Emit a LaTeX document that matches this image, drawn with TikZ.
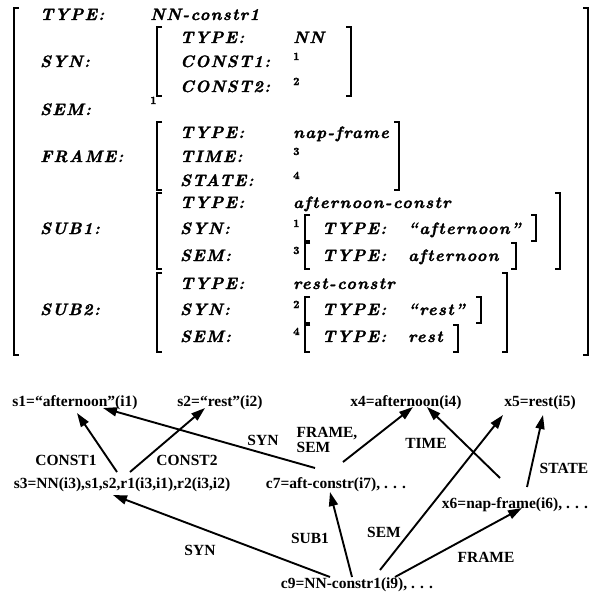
\documentclass[tikz,border=0pt]{standalone}
\usepackage{fontspec}
\setmainfont{Liberation Serif}
\newfontfamily\avmfont{Latin Modern Roman}[LetterSpace=8,FakeBold=1.6]
\usetikzlibrary{arrows.meta,calc}
\newcommand\avmT[4]{\node[avm] (#1) at (#2,#3) {#4};}
\newcommand\avmS[4]{\node[avmsup] (#1) at (#2,#3) {#4};}
\newcommand\lbrk[3]{\draw[brk] (#1+5,#2) -- (#1,#2) -- (#1,#3) -- (#1+5,#3);}
\newcommand\rbrk[3]{\draw[brk] (#1-5,#2) -- (#1,#2) -- (#1,#3) -- (#1-5,#3);}
\begin{document}
\begin{tikzpicture}[x=1pt,y=-1pt,
  avm/.style={anchor=base west,inner sep=0pt,font=\avmfont\bfseries\itshape\fontsize{16.5}{18}\selectfont},
  avmsup/.style={anchor=base west,inner sep=0pt,font=\avmfont\bfseries\fontsize{11}{12}\selectfont},
  brk/.style={line width=1.5pt},
  gn/.style={inner sep=0pt,font=\bfseries\fontsize{15.5}{16}\selectfont},
  gl/.style={inner sep=0pt,align=left,font=\bfseries\fontsize{15.5}{15}\selectfont},
  arr/.style={line width=1.9pt,-{Triangle[length=14pt,width=9pt]}}]
\useasboundingbox (0,0) rectangle (592,600);
% ---------- AVM ----------
\lbrk{14}{8}{355}
\rbrk{588}{8}{355}
\avmT{l1}{40}{20}{TYPE:}
\avmT{v1}{150}{20}{NN-constr1}
\avmT{l2}{40}{67}{SYN:}
\lbrk{157}{27}{96}
\rbrk{351}{27}{96}
\avmT{s1a}{180}{43}{TYPE:}
\avmT{s1b}{293}{43}{NN}
\avmT{s2a}{180}{67}{CONST1:}
\avmS{s2b}{293}{60}{1}
\avmT{s3a}{180}{92}{CONST2:}
\avmS{s3b}{293}{85}{2}
\avmT{l3}{40}{115}{SEM:}
\avmS{v3}{150}{104}{1}
\avmT{l4}{40}{162}{FRAME:}
\lbrk{157}{122}{190}
\rbrk{399}{122}{190}
\avmT{f1a}{180}{138}{TYPE:}
\avmT{f1b}{293}{138}{nap-frame}
\avmT{f2a}{180}{162}{TIME:}
\avmS{f2b}{293}{155}{3}
\avmT{f3a}{180}{186}{STATE:}
\avmS{f3b}{293}{179}{4}
\avmT{l5}{40}{234}{SUB1:}
\lbrk{157}{193}{269}
\rbrk{560}{193}{269}
\avmT{u1a}{180}{208}{TYPE:}
\avmT{u1b}{293}{208}{afternoon-constr}
\avmT{u2a}{180}{234}{SYN:}
\avmS{u2b}{293}{227}{1}
\lbrk{305}{215}{241}
\rbrk{536}{215}{241}
\avmT{u2c}{322}{234}{TYPE:}
\avmT{u2d}{408}{234}{“afternoon”}
\avmT{u3a}{180}{261}{SEM:}
\avmS{u3b}{293}{254}{3}
\lbrk{305}{243}{269}
\rbrk{516}{243}{269}
\avmT{u3c}{322}{261}{TYPE:}
\avmT{u3d}{408}{261}{afternoon}
\avmT{l6}{40}{315}{SUB2:}
\lbrk{157}{273}{352}
\rbrk{507}{273}{352}
\avmT{w1a}{180}{289}{TYPE:}
\avmT{w1b}{293}{289}{rest-constr}
\avmT{w2a}{180}{315}{SYN:}
\avmS{w2b}{293}{308}{2}
\lbrk{305}{297}{323}
\rbrk{481}{297}{323}
\avmT{w2c}{322}{315}{TYPE:}
\avmT{w2d}{408}{315}{“rest”}
\avmT{w3a}{180}{342}{SEM:}
\avmS{w3b}{293}{335}{4}
\lbrk{305}{325}{352}
\rbrk{458}{325}{352}
\avmT{w3c}{322}{342}{TYPE:}
\avmT{w3d}{408}{342}{rest}
% ---------- graph ----------
\node[gn] (s1) at (75,403) {s1=“afternoon”(i1)};
\node[gn] (s2) at (220,403) {s2=“rest”(i2)};
\node[gn] (x4) at (406,403) {x4=afternoon(i4)};
\node[gn] (x5) at (540,403) {x5=rest(i5)};
\node[gn] (s3) at (122,485) {s3=NN(i3),s1,s2,r1(i3,i1),r2(i3,i2)};
\node[gn] (c7) at (336,485) {c7=aft-constr(i7), . . .};
\node[gn] (x6) at (515,505) {x6=nap-frame(i6), . . .};
\node[gn] (c9) at (357,585) {c9=NN-constr1(i9), . . .};
\node[gl] (lc1) at (66,460) {CONST1};
\node[gl] (lc2) at (187,460) {CONST2};
\node[gl] (lsyn1) at (263,440) {SYN};
\node[gl] (lfs) at (327,440) {FRAME,\\SEM};
\node[gl] (ltime) at (426,443) {TIME};
\node[gl] (lstate) at (564,468) {STATE};
\node[gl] (lsyn2) at (200,550) {SYN};
\node[gl] (lsub1) at (310,538) {SUB1};
\node[gl] (lsem) at (384,532) {SEM};
\node[gl] (lframe) at (486,557) {FRAME};
\draw[arr] ($(s3)+(-5,-13)$) -- ($(s1)+(2,10)$);
\draw[arr] ($(s3)+(8,-13)$) -- ($(s2)+(-15,5)$);
\draw[arr] ($(c7)+(-21,-17)$) -- ($(s1)+(28,5)$);
\draw[arr] ($(c7)+(7,-23)$) -- ($(x4)+(7,4)$);
\draw[arr] ($(x6)+(-15,-27)$) -- ($(x4)+(21,4)$);
\draw[arr] ($(c9)+(23,-15)$) -- ($(x5)+(-37,12)$);
\draw[arr] ($(x6)+(12,-18)$) -- ($(x5)+(3,12)$);
\draw[arr] ($(c9)+(-5,-8)$) -- ($(c7)+(-6,7)$);
\draw[arr] ($(c9)+(38,-8)$) -- ($(x6)+(7,3)$);
\draw[arr] ($(c9)+(-27,-8)$) -- ($(s3)+(-9,10)$);
\end{tikzpicture}
\end{document}
